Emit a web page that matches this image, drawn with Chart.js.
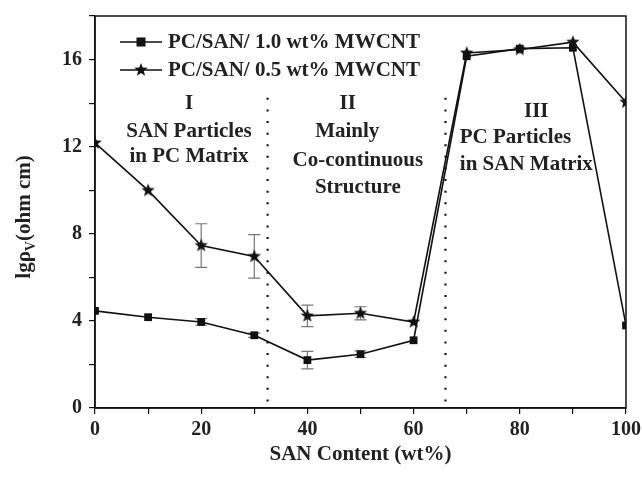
<!DOCTYPE html>
<html>
<head>
<meta charset="utf-8">
<script src="https://cdn.jsdelivr.net/npm/chart.js@4.4.0/dist/chart.umd.min.js"></script>
<style>
  html, body { margin: 0; padding: 0; background: #fff; }
</style>
</head>
<body>
<canvas id="myChart" width="642" height="477"></canvas>
<script>
// values
var sanContent = [0, 10, 20, 30, 40, 50, 60, 70, 80, 90, 100];
var rho10 = [4.46, 4.17, 3.95, 3.34, 2.2, 2.47, 3.11, 16.15, 16.5, 16.54, 3.79];
var rho05 = [12.17, 9.99, 7.46, 6.96, 4.23, 4.35, 3.95, 16.3, 16.46, 16.8, 14.04];
var err10 = [0, 0, 0.15, 0.1, 0.4, 0.15, 0, 0, 0, 0, 0];
var err05 = [0, 0, 1.0, 1.0, 0.49, 0.3, 0, 0, 0, 0, 0];
var seriesLabels = ['PC/SAN/ 1.0 wt% MWCNT', 'PC/SAN/ 0.5 wt% MWCNT'];
var xTicks = [0, 20, 40, 60, 80, 100];
var yTicks = [0, 4, 8, 12, 16];
var boundaries = [32.5, 66];

// region texts: [text, x, y, align]
var regionText = [
  ['I', 17.7, 14.0, 'center'],
  ['SAN Particles', 17.7, 12.7, 'center'],
  ['in PC Matrix', 17.7, 11.55, 'center'],
  ['II', 47.6, 14.0, 'center'],
  ['Mainly', 47.5, 12.7, 'center'],
  ['Co-continuous', 49.5, 11.35, 'center'],
  ['Structure', 49.5, 10.1, 'center'],
  ['III', 83.1, 13.6, 'center'],
  ['PC Particles', 68.7, 12.4, 'left'],
  ['in SAN Matrix', 68.7, 11.2, 'left']
];

var serif = '"Liberation Serif", "Times New Roman", serif';

function starImage(r) {
  var c = document.createElement('canvas');
  c.width = c.height = r * 2 + 2;
  var g = c.getContext('2d');
  g.fillStyle = '#111';
  g.beginPath();
  for (var i = 0; i < 10; i++) {
    var rad = i % 2 == 0 ? r : r * 0.42;
    var a = -Math.PI / 2 + i * Math.PI / 5;
    var px = r + 1 + rad * Math.cos(a), py = r + 1 + rad * Math.sin(a);
    if (i == 0) g.moveTo(px, py); else g.lineTo(px, py);
  }
  g.closePath();
  g.fill();
  return c;
}
var star = starImage(7);

function points(ys) {
  return sanContent.map(function (x, i) { return { x: x, y: ys[i] }; });
}

var decor = {
  id: 'decor',
  beforeDatasetsDraw: function (chart) {
    var ctx = chart.ctx, xs = chart.scales.x, ys = chart.scales.y;
    // dotted region boundaries
    ctx.save();
    ctx.strokeStyle = '#111';
    ctx.lineWidth = 2.2;
    ctx.setLineDash([2, 9.6]);
    boundaries.forEach(function (b) {
      ctx.beginPath();
      ctx.moveTo(xs.getPixelForValue(b), ys.getPixelForValue(0.3));
      ctx.lineTo(xs.getPixelForValue(b), ys.getPixelForValue(14.3));
      ctx.stroke();
    });
    ctx.restore();
    // error bars
    ctx.save();
    ctx.strokeStyle = '#777';
    ctx.lineWidth = 1.2;
    [[rho10, err10], [rho05, err05]].forEach(function (s) {
      sanContent.forEach(function (x, i) {
        var e = s[1][i];
        if (!e) return;
        var px = xs.getPixelForValue(x);
        var hi = ys.getPixelForValue(s[0][i] + e), lo = ys.getPixelForValue(s[0][i] - e);
        ctx.beginPath();
        ctx.moveTo(px, hi); ctx.lineTo(px, lo);
        ctx.moveTo(px - 6, hi); ctx.lineTo(px + 6, hi);
        ctx.moveTo(px - 6, lo); ctx.lineTo(px + 6, lo);
        ctx.stroke();
      });
    });
    ctx.restore();
  },
  afterDraw: function (chart) {
    var ctx = chart.ctx, a = chart.chartArea, xs = chart.scales.x, ys = chart.scales.y;
    ctx.save();
    // frame
    ctx.strokeStyle = '#111';
    ctx.lineWidth = 1.5;
    ctx.strokeRect(a.left, a.top, a.right - a.left, a.bottom - a.top);
    // region annotations
    ctx.fillStyle = '#222';
    ctx.font = 'bold 21px ' + serif;
    ctx.textBaseline = 'middle';
    regionText.forEach(function (t) {
      ctx.textAlign = t[3];
      ctx.fillText(t[0], xs.getPixelForValue(t[1]), ys.getPixelForValue(t[2]));
    });
    // legend
    seriesLabels.forEach(function (lab, i) {
      var y = 42 + i * 28;
      ctx.strokeStyle = '#111';
      ctx.lineWidth = 1.6;
      ctx.beginPath();
      ctx.moveTo(120, y); ctx.lineTo(162, y);
      ctx.stroke();
      if (i == 0) {
        ctx.fillStyle = '#111';
        ctx.fillRect(136.5, y - 4.5, 9, 9);
      } else {
        ctx.drawImage(star, 141 - star.width / 2, y - star.height / 2);
      }
      ctx.fillStyle = '#222';
      ctx.textAlign = 'left';
      ctx.fillText(lab, 168, y + 1);
    });
    // y axis title with subscript
    ctx.translate(25, 217);
    ctx.rotate(-Math.PI / 2);
    ctx.textAlign = 'left';
    ctx.textBaseline = 'middle';
    var big = 'bold 21px ' + serif, small = 'bold 14px ' + serif;
    ctx.font = big;
    var w1 = ctx.measureText('lg\u03c1').width, w3 = ctx.measureText('(ohm cm)').width;
    ctx.font = small;
    var w2 = ctx.measureText('V').width;
    var x0 = -(w1 + w2 + w3) / 2;
    ctx.font = big;
    ctx.fillText('lg\u03c1', x0, 0);
    ctx.font = small;
    ctx.fillText('V', x0 + w1, 6);
    ctx.font = big;
    ctx.fillText('(ohm cm)', x0 + w1 + w2, 0);
    ctx.restore();
  }
};

var ctx = document.getElementById('myChart');

var myChart = new Chart(ctx, {
  type: 'line',
  data: {
    datasets: [{
      label: seriesLabels[0],
      data: points(rho10),
      borderColor: '#111',
      backgroundColor: '#111',
      borderWidth: 1.6,
      pointStyle: 'rect',
      pointRadius: 5.5,
      pointBorderWidth: 0,
      clip: 0
    }, {
      label: seriesLabels[1],
      data: points(rho05),
      borderColor: '#111',
      backgroundColor: '#111',
      borderWidth: 1.6,
      pointStyle: star,
      clip: 0
    }]
  },
  options: {
    responsive: false,
    animation: false,
    layout: { padding: { top: 16, right: 16, left: 0, bottom: 0 } },
    plugins: { legend: { display: false }, tooltip: { enabled: false } },
    scales: {
      x: {
        type: 'linear',
        min: 0, max: 100,
        afterFit: function (s) {
          s.height = 69;
          s.paddingLeft = 0; s.paddingRight = 0;
        },
        afterBuildTicks: function (s) {
          s.ticks = [0, 10, 20, 30, 40, 50, 60, 70, 80, 90, 100].map(function (v) { return { value: v }; });
        },
        ticks: {
          autoSkip: false,
          maxRotation: 0,
          padding: 4,
          color: '#222',
          font: { family: serif, size: 20, weight: 'bold' },
          callback: function (v) { return xTicks.indexOf(v) >= 0 ? String(v) : ''; }
        },
        grid: { drawOnChartArea: false, tickLength: 6, color: '#111', lineWidth: 1.2 },
        border: { color: '#111', width: 1.5 },
        title: {
          display: true,
          text: 'SAN Content (wt%)',
          color: '#222',
          font: { family: serif, size: 21, weight: 'bold' },
          padding: { top: 0, bottom: 10 }
        }
      },
      y: {
        min: 0, max: 18,
        afterFit: function (s) {
          s.width = 95;
          s.paddingTop = 0; s.paddingBottom = 0;
        },
        afterBuildTicks: function (s) {
          s.ticks = [0, 2, 4, 6, 8, 10, 12, 14, 16, 18].map(function (v) { return { value: v }; });
        },
        ticks: {
          autoSkip: false,
          padding: 7,
          color: '#222',
          font: { family: serif, size: 20, weight: 'bold' },
          callback: function (v) { return yTicks.indexOf(v) >= 0 ? String(v) : ''; }
        },
        grid: { drawOnChartArea: false, tickLength: 6, color: '#111', lineWidth: 1.2 },
        border: { color: '#111', width: 1.5 }
      }
    }
  },
  plugins: [decor]
});
</script>
</body>
</html>
